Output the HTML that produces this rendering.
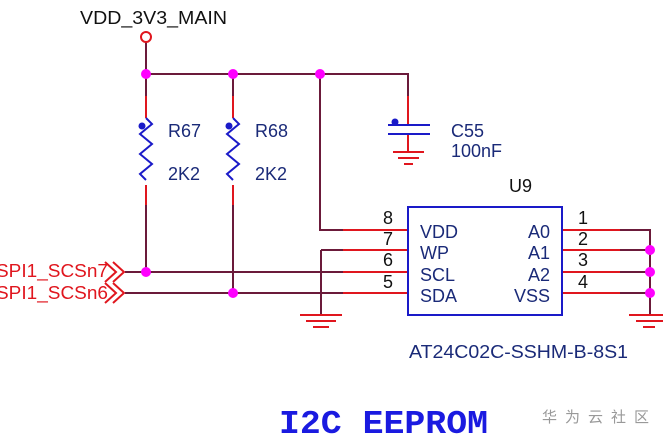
<!DOCTYPE html>
<html><head><style>body{margin:0;background:#fff}svg{display:block}</style></head><body>
<svg width="663" height="442" viewBox="0 0 663 442" xmlns="http://www.w3.org/2000/svg" font-family="Liberation Sans, sans-serif">
<g stroke="#6b1a3a" stroke-width="2" fill="none">
<path d="M146 42V96M146 74H408V96M233 74V96M320 74V230H343M146 185V272M233 185V293"/>
<path d="M125 272H343M125 293H343M321 250H343M321 250V315"/>
<path d="M620 230H650V315M620 250H650M620 272H650M620 293H650"/>
</g>
<g stroke="#e0161e" stroke-width="2" fill="none">
<path d="M146 96V118M233 96V118M146 185V205M233 185V205M408 96V124M408 134V152"/>
<path d="M343 230H408M343 250H408M343 272H408M343 293H408M562 230H620M562 250H620M562 272H620M562 293H620"/>
<path d="M393 152H424M398 158H419M404 164H413"/>
<path d="M300 315H342M306 321H336M313 327H329M629 315H663M636 321H663M643 327H655"/>
<path d="M113 262L124 272L113 282M113 283L124 293L113 303M105 262L116 272L105 282M105 283L116 293L105 303"/>
</g>
<circle cx="146" cy="37" r="5" fill="#fff" stroke="#e0161e" stroke-width="2"/>
<g stroke="#1a1ac8" stroke-width="2" fill="none">
<path d="M146 118l6 6-12 10 12 10-12 10 12 10-12 10 6 6"/>
<path d="M233 118l6 6-12 10 12 10-12 10 12 10-12 10 6 6"/>
<path d="M388 125H430M388 134H430"/>
<rect x="408" y="207" width="154" height="108"/>
</g>
<g fill="#1a1ac8"><circle cx="142" cy="126" r="3.5"/><circle cx="229" cy="126" r="3.5"/><circle cx="395" cy="122" r="3.5"/></g>
<g fill="#ff00ff"><circle cx="146" cy="74" r="5"/><circle cx="233" cy="74" r="5"/><circle cx="320" cy="74" r="5"/><circle cx="146" cy="272" r="5"/><circle cx="233" cy="293" r="5"/><circle cx="650" cy="250" r="5"/><circle cx="650" cy="272" r="5"/><circle cx="650" cy="293" r="5"/></g>
<g font-size="18" fill="#111">
<text x="80" y="24" textLength="147" lengthAdjust="spacingAndGlyphs">VDD_3V3_MAIN</text>
<text x="383" y="224">8</text><text x="383" y="245">7</text><text x="383" y="266">6</text><text x="383" y="288">5</text>
<text x="578" y="224">1</text><text x="578" y="245">2</text><text x="578" y="266">3</text><text x="578" y="288">4</text>
<text x="509" y="192">U9</text>
</g>
<g font-size="18" fill="#1a2a78">
<text x="168" y="137">R67</text><text x="168" y="180">2K2</text>
<text x="255" y="137">R68</text><text x="255" y="180">2K2</text>
<text x="451" y="137">C55</text><text x="451" y="157">100nF</text>
<text x="420" y="238">VDD</text><text x="420" y="259">WP</text><text x="420" y="281">SCL</text><text x="420" y="302">SDA</text>
<text x="550" y="238" text-anchor="end">A0</text><text x="550" y="259" text-anchor="end">A1</text><text x="550" y="281" text-anchor="end">A2</text><text x="550" y="302" text-anchor="end">VSS</text>
<text x="409" y="358" textLength="219" lengthAdjust="spacingAndGlyphs">AT24C02C-SSHM-B-8S1</text>
</g>
<g font-size="18" fill="#e0161e"><text x="-4" y="277" textLength="112" lengthAdjust="spacingAndGlyphs">SPI1_SCSn7</text><text x="-4" y="299" textLength="112" lengthAdjust="spacingAndGlyphs">SPI1_SCSn6</text></g>
<text x="279" y="433" font-family="Liberation Mono, monospace" font-weight="bold" font-size="33" fill="#1a1ae0" textLength="209" lengthAdjust="spacingAndGlyphs">I2C EEPROM</text>
<text x="542" y="422" font-family="Noto Sans CJK SC, sans-serif" font-size="15" fill="#999" letter-spacing="8">华为云社区</text>
</svg>
</body></html>
